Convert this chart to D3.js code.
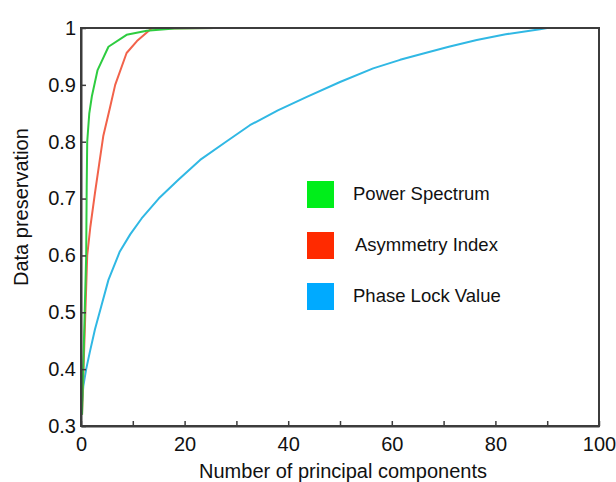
<!DOCTYPE html>
<html>
<head>
<meta charset="utf-8">
<script src="https://cdn.jsdelivr.net/npm/d3@7"></script>
<style>
  html, body { margin: 0; padding: 0; background: #fff; }
  text { font-family: "Liberation Sans", Arial, sans-serif; fill: #111; }
</style>
</head>
<body>
<svg id="chart" width="616" height="482"></svg>
<script>
// ---- data ----
const seriesNames = ["Power Spectrum", "Asymmetry Index", "Phase Lock Value"];

const powerX = [0.2, 1.0, 1.1, 1.2, 1.6, 2.1, 3.2, 5.3, 8.8, 12.7, 18, 26];
const powerY = [0.32, 0.60, 0.72, 0.80, 0.85, 0.88, 0.926, 0.967, 0.988, 0.995, 0.999, 1.0];

const asymX = [0.2, 1.2, 1.8, 2.7, 3.5, 4.3, 5.6, 6.6, 8.8, 10.8, 13.6, 26];
const asymY = [0.32, 0.60, 0.65, 0.71, 0.76, 0.81, 0.86, 0.90, 0.956, 0.977, 0.999, 1.0];

const plvX = [0.1, 0.45, 1.0, 1.7, 2.7, 3.9, 5.3, 7.5, 9.5, 11.7, 15, 18.8, 23, 28, 32.6, 38, 43.6, 50, 56.4, 61.6, 66.1, 71, 76.4, 82, 88.6, 90];
const plvY = [0.33, 0.37, 0.40, 0.43, 0.47, 0.51, 0.557, 0.607, 0.637, 0.665, 0.70, 0.733, 0.768, 0.80, 0.829, 0.855, 0.879, 0.905, 0.929, 0.944, 0.955, 0.967, 0.979, 0.989, 0.998, 1.0];

const xTicks = [0, 10, 20, 30, 40, 50, 60, 70, 80, 90, 100];
const xTickLabels = ["0", "", "20", "", "40", "", "60", "", "80", "", "100"];
const yTicks = [0.3, 0.4, 0.5, 0.6, 0.7, 0.8, 0.9, 1.0];
const yTickLabels = ["0.3", "0.4", "0.5", "0.6", "0.7", "0.8", "0.9", "1"];

const lineColors = ["#2ecc40", "#f2624a", "#30b8e4"];
const legendColors = ["#00ee1a", "#ff2a00", "#00aaff"];
const xTitle = "Number of principal components";
const yTitle = "Data preservation";

// ---- layout ----
const svg = d3.select("#chart");
const L = 81, R = 599, T = 28, B = 426;
const x = d3.scaleLinear().domain([0, 100]).range([L, R]);
const y = d3.scaleLinear().domain([0.3, 1]).range([B, T]);

const series = [
  { name: seriesNames[0], xs: powerX, ys: powerY, color: lineColors[0] },
  { name: seriesNames[1], xs: asymX, ys: asymY, color: lineColors[1] },
  { name: seriesNames[2], xs: plvX, ys: plvY, color: lineColors[2] }
];

const line = d3.line().x(d => x(d[0])).y(d => y(d[1]));

// draw order: blue, red, green
[2, 1, 0].forEach(i => {
  const s = series[i];
  svg.append("path")
    .datum(s.xs.map((v, k) => [v, s.ys[k]]))
    .attr("fill", "none")
    .attr("stroke", s.color)
    .attr("stroke-width", 2)
    .attr("stroke-linejoin", "round")
    .attr("d", line);
});

// frame
svg.append("rect")
  .attr("x", L).attr("y", T)
  .attr("width", R - L).attr("height", B - T)
  .attr("fill", "none")
  .attr("stroke", "#3c3c3c")
  .attr("stroke-width", 2);

// axes
const xAxis = d3.axisBottom(x)
  .tickValues(xTicks)
  .tickFormat((d, i) => xTickLabels[i])
  .tickSizeInner(-5).tickSizeOuter(0).tickPadding(11);
const gx = svg.append("g").attr("transform", `translate(0,${B})`).call(xAxis);

const yAxis = d3.axisLeft(y)
  .tickValues(yTicks)
  .tickFormat((d, i) => yTickLabels[i])
  .tickSizeInner(-5).tickSizeOuter(0).tickPadding(5);
const gy = svg.append("g").attr("transform", `translate(${L},0)`).call(yAxis);

[gx, gy].forEach(g => {
  g.select(".domain").attr("stroke", "#3c3c3c").attr("stroke-width", 2);
  g.selectAll(".tick line").attr("stroke", "#3c3c3c").attr("stroke-width", 1.5);
  g.selectAll(".tick text")
    .attr("font-size", 20)
    .attr("font-family", "Liberation Sans, Arial, sans-serif")
    .attr("fill", "#111");
});

// axis titles
svg.append("text")
  .attr("x", 343).attr("y", 478)
  .attr("text-anchor", "middle")
  .attr("font-size", 20)
  .text(xTitle);

svg.append("text")
  .attr("transform", "translate(27.5,286) rotate(-90)")
  .attr("text-anchor", "start")
  .attr("font-size", 20)
  .text(yTitle);

// legend
const legend = svg.append("g");
seriesNames.forEach((name, i) => {
  const yy = 181 + i * 51;
  legend.append("rect")
    .attr("x", 307).attr("y", yy)
    .attr("width", 27).attr("height", 27)
    .attr("fill", legendColors[i]);
  legend.append("text")
    .attr("x", i === 1 ? 355 : 353)
    .attr("y", yy + 19)
    .attr("font-size", 18.5)
    .text(name);
});
</script>
</body>
</html>
